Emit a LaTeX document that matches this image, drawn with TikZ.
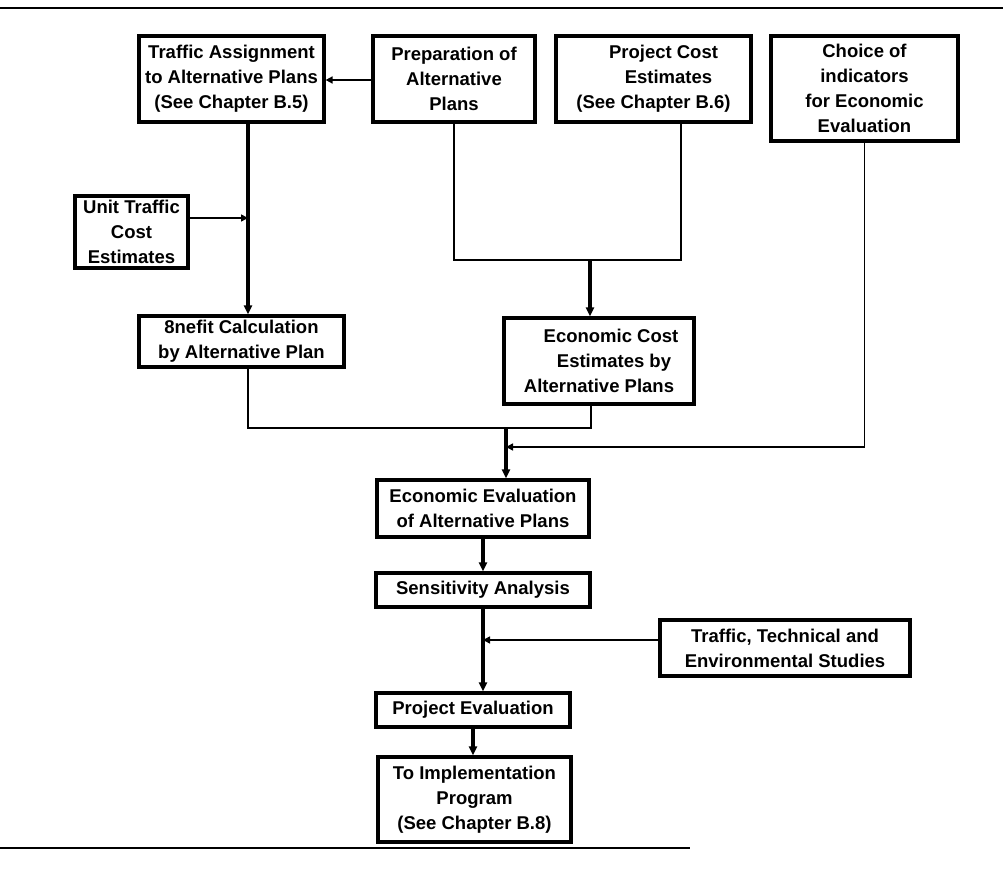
\documentclass[tikz,border=0pt]{standalone}
\usepackage{fontspec}
\setmainfont{Liberation Sans}
\usetikzlibrary{arrows.meta,calc}
\begin{document}
\begin{tikzpicture}[x=1pt,y=-1pt,
  box/.style={draw,line width=3.2pt,inner sep=1pt,align=center,
    font=\fontsize{18.5}{25}\selectfont\bfseries},
  flow/.style={line width=3.2pt},
  feed/.style={line width=1.6pt},
  tip/.style={-{Triangle[length=9pt,width=8pt]}},
  smalltip/.style={-{Triangle[length=7pt,width=7pt]}}]
\useasboundingbox (0,0) rectangle (1003,874);
% rules above and below the chart
\draw[line width=2.6pt] (0,8) -- (1003,8);
\draw[line width=2.6pt] (0,848) -- (690,848);

% boxes
\node[box,minimum width=185pt,minimum height=86pt] (ta) at (231.5,79)
  {Traffic Assignment\\to Alternative Plans\\(See Chapter B.5)};
\node[box,minimum width=162pt,minimum height=86pt] (prep) at (454,79)
  {Preparation of\\Alternative\\Plans};
\node[box,minimum width=195pt,minimum height=86pt] (pce) at (653.5,79)
  {\hspace*{20pt}Project Cost\\\hspace*{30pt}Estimates\\(See Chapter B.6)};
\node[box,minimum width=187pt,minimum height=105pt] (choice) at (864.5,88.5)
  {Choice of\\indicators\\for Economic\\Evaluation};
\node[box,minimum width=113pt,minimum height=72pt] (unit) at (131.5,232)
  {Unit Traffic\\Cost\\Estimates};
\node[box,minimum width=205pt,minimum height=51pt] (ben) at (241.5,341.5)
  {8nefit Calculation\\by Alternative Plan};
\node[box,minimum width=190pt,minimum height=86pt] (ecc) at (599,361)
  {\hspace*{24pt}Economic Cost\\\hspace*{30pt}Estimates by\\Alternative Plans};
\node[box,minimum width=212pt,minimum height=57pt] (eval) at (483,508.5)
  {Economic Evaluation\\of Alternative Plans};
\node[box,minimum width=214pt,minimum height=34pt] (sens) at (483,590)
  {Sensitivity Analysis};
\node[box,minimum width=250pt,minimum height=56pt] (ttes) at (785,648)
  {Traffic, Technical and\\Environmental Studies};
\node[box,minimum width=194pt,minimum height=34pt] (pev) at (473,710)
  {Project Evaluation};
\node[box,minimum width=193pt,minimum height=85pt] (impl) at (474.5,799.5)
  {To Implementation\\Program\\(See Chapter B.8)};

% junction points
\coordinate (tadown) at (248,122);
\coordinate (unitjoin) at (248,218);
\coordinate (costbar) at (590,260);
\coordinate (pcebar) at (681,260);
\coordinate (benbar) at (248,428);
\coordinate (eccbar) at (591,428);
\coordinate (merge) at (506,428);
\coordinate (choicejoin) at (506,447);
\coordinate (sensjoin) at (483,640);

% connectors
\draw[feed,smalltip] (prep.west |- 0,80) -- (ta.east |- 0,80);
\draw[flow,tip] (tadown) -- (tadown |- ben.north);
\draw[feed,smalltip] (unit.east |- unitjoin) -- (unitjoin);
\draw[feed] (prep.south) -- (prep.south |- costbar) -- (pcebar) -- (pcebar |- pce.south);
\draw[flow,tip] (costbar) -- (costbar |- ecc.north);
\draw[feed] (benbar |- ben.south) -- (benbar) -- (eccbar) -- (eccbar |- ecc.south);
\draw[flow,tip] (merge) -- (merge |- eval.north);
\draw[feed,smalltip] (choice.south) -- (choice.south |- choicejoin) -- (choicejoin);
\draw[flow,tip] (eval.south) -- (sens.north);
\draw[flow,tip] (sens.south) -- (sens.south |- pev.north);
\draw[feed,smalltip] (ttes.west |- sensjoin) -- (sensjoin);
\draw[flow,tip] (pev.south) -- (pev.south |- impl.north);
\end{tikzpicture}
\end{document}
